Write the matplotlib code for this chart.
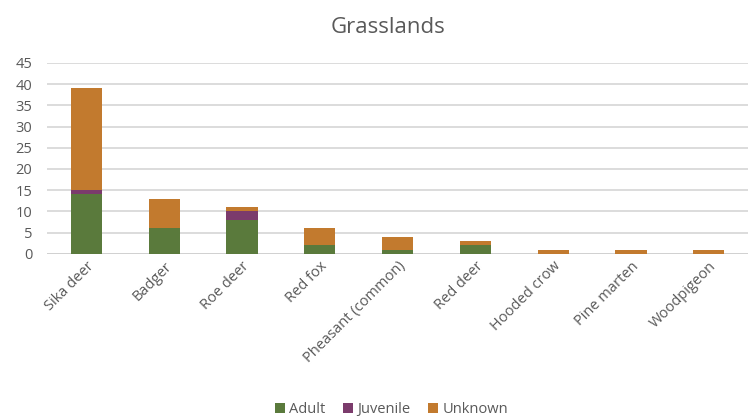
import numpy as np
import matplotlib.pyplot as plt

plt.rcParams['font.family'] = ['Open Sans', 'DejaVu Sans']

species = ['Sika deer', 'Badger', 'Roe deer', 'Red fox', 'Pheasant (common)',
           'Red deer', 'Hooded crow', 'Pine marten', 'Woodpigeon']
adult = [14, 6, 8, 2, 1, 2, 0, 0, 0]
juvenile = [1, 0, 2, 0, 0, 0, 0, 0, 0]
unknown = [24, 7, 1, 4, 3, 1, 1, 1, 1]

c_adult = '#5a7a3c'
c_juv = '#7b3b6c'
c_unk = '#c27a2e'

fig = plt.figure(figsize=(7.53, 4.19), dpi=100)
ax = fig.add_axes([0.063, 0.394, 0.930, 0.456])

x = np.arange(len(species))
a = np.array(adult)
j = np.array(juvenile)
u = np.array(unknown)
w = 0.4
ax.bar(x, a, w, color=c_adult, label='Adult', zorder=3)
ax.bar(x, j, w, bottom=a, color=c_juv, label='Juvenile', zorder=3)
ax.bar(x, u, w, bottom=a + j, color=c_unk, label='Unknown', zorder=3)

ax.set_xlim(-0.5, len(species) - 0.5)
ax.set_ylim(0, 45)
ax.set_yticks(range(0, 46, 5))
ax.yaxis.grid(True, color='#d9d9d9', linewidth=1.3, zorder=0)
for s in ax.spines.values():
    s.set_visible(False)
ax.axhline(0, color='#d0d0d0', linewidth=1.3, zorder=2)
ax.tick_params(axis='both', length=0, labelsize=10.5, colors='#595959')
ax.tick_params(axis='y', pad=11)
ax.set_xticks(x)
ax.set_xticklabels(species, rotation=45, ha='right', rotation_mode='anchor')

fig.text(0.515, 0.935, 'Grasslands', ha='center', va='center', fontsize=16, color='#595959')

leg = fig.legend(loc='center', bbox_to_anchor=(0.52, 0.022), ncol=3, frameon=False,
                 fontsize=10.5, handlelength=0.7, handleheight=0.7, handletextpad=0.3,
                 columnspacing=1.2)
for t in leg.get_texts():
    t.set_color('#595959')

fig.savefig('out.png', dpi=100)
